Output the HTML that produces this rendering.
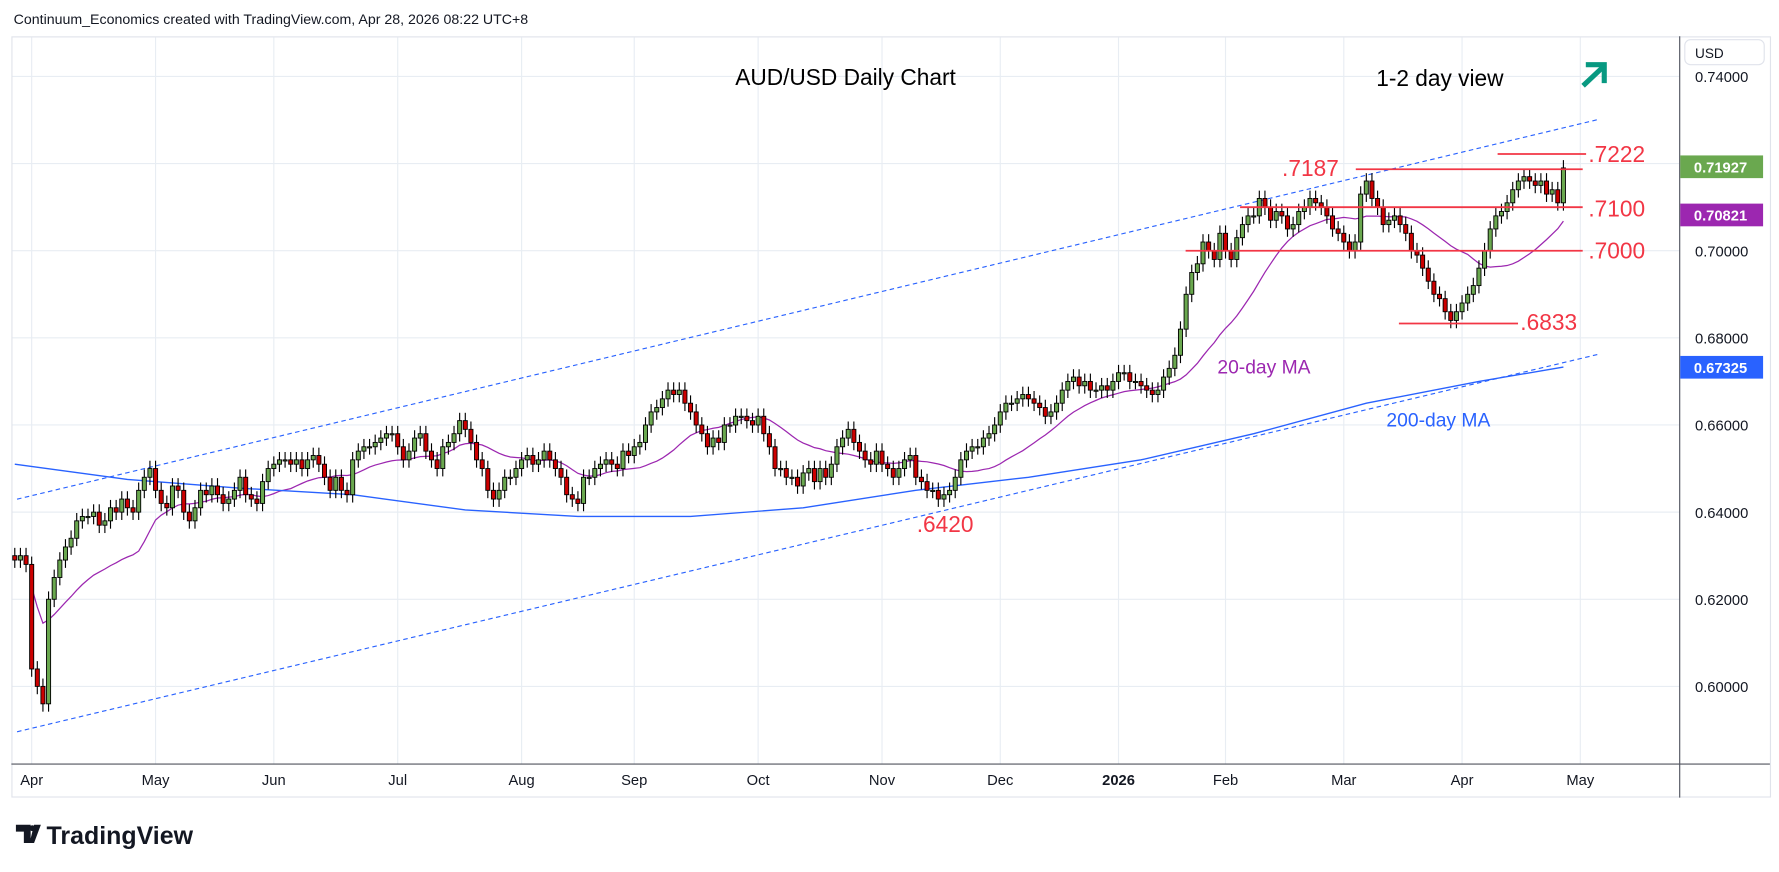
<!DOCTYPE html>
<html><head><meta charset="utf-8">
<style>
html,body{margin:0;padding:0;background:#fff;width:1779px;height:872px;overflow:hidden}
svg{display:block;font-family:"Liberation Sans",sans-serif}
</style></head>
<body>
<svg id="chart" width="1779" height="872" viewBox="0 0 1568 768.6" xmlns="http://www.w3.org/2000/svg">
<rect x="0" y="0" width="1568" height="768.6" fill="#fff"/>
<text x="12" y="21" font-size="12.5" fill="#131722">Continuum_Economics created with TradingView.com, Apr 28, 2026 08:22 UTC+8</text>
<rect x="10.5" y="32.5" width="1550" height="670" fill="none" stroke="#e0e3eb"/>
<g id="grid"></g>
<g id="trend"></g>
<g id="ma"></g>
<g id="candles"></g>
<g id="levels"></g>
<line x1="1480.5" y1="32" x2="1480.5" y2="703" stroke="#50535e"/>
<line x1="10" y1="673.5" x2="1560" y2="673.5" stroke="#50535e"/>
<g id="yaxis"></g>
<g id="xaxis"></g>
<rect x="1485" y="35" width="70" height="22" rx="5" fill="#fff" stroke="#e0e3eb"/>
<text x="1494" y="51" font-size="12" fill="#131722">USD</text>
<text x="648" y="75" font-size="20" fill="#000">AUD/USD Daily Chart</text>
<text x="1213" y="76" font-size="20" fill="#000">1-2 day view</text>
<g stroke="#089981" stroke-width="4.5" fill="none" stroke-linecap="square">
<line x1="1397" y1="74" x2="1413" y2="59"/><polyline points="1400,57 1414,57 1414,71"/></g>
<text x="1073" y="329" font-size="17" fill="#9c27b0">20-day MA</text>
<text x="1222" y="376" font-size="17" fill="#2962ff">200-day MA</text>
<g>
<path d="M14 727h13v16h-6v-10h-7z M30 727h6l-6 16h-4z" fill="#131722"/>
<circle cx="28.5" cy="730" r="2.6" fill="#131722"/>
<text x="41" y="744" font-size="22" font-weight="bold" fill="#131722">TradingView</text></g>
</svg>
<script>
const months=["Apr","May","Jun","Jul","Aug","Sep","Oct","Nov","Dec","2026","Feb","Mar","Apr","May"];
const monthStart=[3,25,46,68,90,110,132,154,175,196,215,236,257,278];
const priceTicks=[0.74,0.72,0.70,0.68,0.66,0.64,0.62,0.60];
const closes=[
.629,.630,.628,.604,.600,.596,.620,.625,.629,.632,.634,.638,.639,.639,.640,.637,.638,.641,.640,.643,.641,.640,
.645,.648,.650,.645,.642,.641,.646,.645,.640,.638,.641,.645,.644,.646,.644,.642,.643,.645,.648,.644,.643,.642,
.647,.650,.651,.652,.652,.651,.652,.650,.652,.653,.651,.648,.645,.648,.645,.644,.652,.654,.655,.655,.656,
.657,.658,.658,.655,.652,.654,.657,.658,.654,.652,.650,.655,.656,.658,.661,.659,.656,.652,.650,.645,.643,.645,
.648,.648,.650,.652,.653,.651,.652,.654,.652,.650,.648,.644,.643,.642,.648,.648,.650,.651,.652,.651,.650,
.654,.653,.655,.656,.660,.663,.664,.666,.668,.667,.668,.665,.663,.660,.658,.655,.657,.656,.660,.660,.662,.662,
.661,.660,.662,.658,.655,.650,.650,.648,.648,.646,.649,.650,.647,.650,.648,.651,.655,.657,.659,.656,.654,.652,.651,
.654,.651,.650,.648,.650,.652,.653,.648,.647,.645,.645,.643,.644,.645,.648,.652,.654,.655,.655,.657,
.658,.660,.663,.665,.665,.666,.667,.666,.665,.664,.662,.663,.665,.668,.670,.671,.669,.670,.668,.668,.669,.668,
.670,.672,.672,.670,.670,.669,.668,.667,.668,.671,.673,.676,.682,.690,.695,.697,.702,.700,.698,.704,.700,
.698,.703,.706,.708,.708,.712,.710,.707,.709,.708,.705,.706,.709,.710,.712,.711,.710,.708,.705,
.704,.702,.700,.702,.713,.716,.712,.710,.706,.707,.708,.706,.704,.700,.699,.696,.693,.690,.689,.686,.684,.686,
.688,.690,.692,.696,.700,.705,.708,.709,.711,.714,.716,.717,.716,.715,.716,.713,.714,.711,.719];
const ma200Idx=[0,20,40,60,80,100,120,140,160,180,200,220,240,260,275];
const ma200Val=[.651,.6475,.6455,.644,.6405,.639,.639,.641,.645,.648,.652,.658,.665,.670,.6733];
const levelVals=[.7222,.7187,.7100,.7000,.6833];
const levelLabels=[".7222",".7187",".7100",".7000",".6833"];
const lastPrices=[.71927,.70821,.67325];
const lastLabels=["0.71927","0.70821","0.67325"];

const NS="http://www.w3.org/2000/svg";
const X=i=>13+i*(1378-13)/275;
const Y=p=>221+(0.70-p)*3840;
function mk(parent,tag,attrs){const e=document.createElementNS(NS,tag);for(const k in attrs)e.setAttribute(k,attrs[k]);parent.appendChild(e);return e;}
const grid=document.getElementById('grid'),yaxis=document.getElementById('yaxis'),xaxis=document.getElementById('xaxis');
priceTicks.forEach(p=>{
 const l=mk(grid,'line',{x1:11,x2:1480,y1:Y(p),y2:Y(p),stroke:'#e8edf3'});
 
 
 const t=mk(yaxis,'text',{x:1494,y:Y(p)+5,'font-size':13,fill:'#131722'});t.textContent=p.toFixed(5);
 
 
});
months.forEach((m,k)=>{
 const x=X(monthStart[k]);
 const l=mk(grid,'line',{x1:x,x2:x,y1:33,y2:673,stroke:'#e8edf3'});
 
 
 const t=mk(xaxis,'text',{x:x,y:692,'font-size':13,fill:'#131722','text-anchor':'middle','font-weight':m==="2026"?'bold':'normal'});t.textContent=m;
 
 
});
const tr=document.getElementById('trend');
[[15,440,1410,105],[15,645,1410,312]].forEach(s=>{
 const l=mk(tr,'line',{x1:s[0],y1:s[1],x2:s[2],y2:s[3],stroke:'#2962ff','stroke-width':1,'stroke-dasharray':'4 3'});
 
 
});
const ma=document.getElementById('ma');
let pts=[];
for(let i=0;i<closes.length;i++){const s=Math.max(0,i-19);let sum=0;for(let j=s;j<=i;j++)sum+=closes[j];pts.push(X(i)+','+Y(sum/(i-s+1)));}
const p20=mk(ma,'polyline',{points:pts.slice(3).join(' '),fill:'none',stroke:'#9c27b0','stroke-width':1.1});


const p200=mk(ma,'polyline',{points:ma200Idx.map((i,k)=>X(i)+','+Y(ma200Val[k])).join(' '),fill:'none',stroke:'#2962ff','stroke-width':1.2});


const cg=document.getElementById('candles');
let prev=0.630;
closes.forEach((c,i)=>{
 const o=prev;prev=c;const up=c>=o;const x=X(i);
 const hi=Math.max(o,c)+0.0018,lo=Math.min(o,c)-0.0018;
 const w=mk(cg,'line',{x1:x,x2:x,y1:Y(hi),y2:Y(lo),stroke:'#000','stroke-width':1});
 
 
 const top=Y(Math.max(o,c)),h=Math.max(1,Y(Math.min(o,c))-top);
 const b=mk(cg,'rect',{x:x-1.8,y:top,width:3.6,height:h,fill:up?'#6aa84f':'#cc0000',stroke:'#000','stroke-width':0.8});
 
 
});
const lv=document.getElementById('levels');
const spans=[[1320,1398],[1195,1395],[1093,1395],[1045,1395],[1233,1338]];
const lpos=[[1400,143],[1130,155],[1400,191],[1400,228],[1340,291]];
levelVals.forEach((v,k)=>{
 const l=mk(lv,'line',{x1:spans[k][0],x2:spans[k][1],y1:Y(v),y2:Y(v),stroke:'#f23645','stroke-width':1.6});
 
 
 const t=mk(lv,'text',{x:lpos[k][0],y:lpos[k][1],'font-size':20,fill:'#f23645'});t.textContent=levelLabels[k];
 
 
});
const t6=mk(lv,'text',{x:808,y:469,'font-size':20,fill:'#f23645'});t6.textContent=".6420";


const cols=['#6aa84f','#9c27b0','#2962ff'];
lastPrices.forEach((p,k)=>{
 const r=mk(yaxis,'rect',{x:1481,y:Y(p)-10,width:73,height:20,fill:cols[k]});
 
 
 const t=mk(yaxis,'text',{x:1493,y:Y(p)+5,'font-size':13,fill:'#fff','font-weight':'bold'});t.textContent=lastLabels[k];
 
 
});
</script>
</body></html>
